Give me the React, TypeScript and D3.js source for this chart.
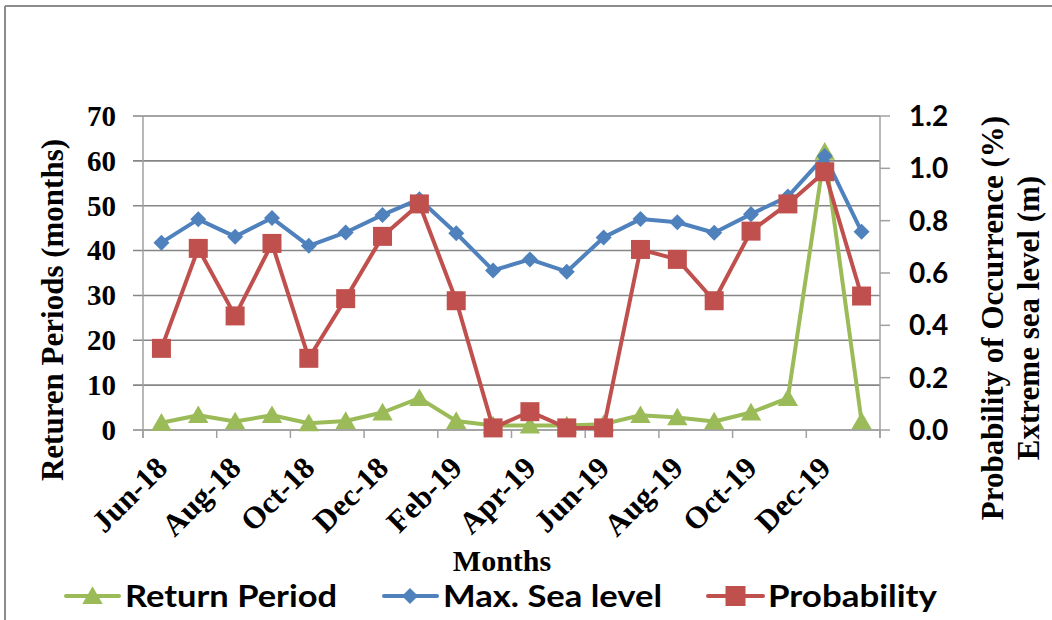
import React from "react";
import * as d3 from "d3";

const months = ["Jun-18","Jul-18","Aug-18","Sep-18","Oct-18","Nov-18","Dec-18","Jan-19","Feb-19","Mar-19","Apr-19","May-19","Jun-19","Jul-19","Aug-19","Sep-19","Oct-19","Nov-19","Dec-19","Jan-20"];
const xTickLabels = ["Jun-18","Aug-18","Oct-18","Dec-18","Feb-19","Apr-19","Jun-19","Aug-19","Oct-19","Dec-19"];
const returnPeriod = [1.6,3.3,1.9,3.3,1.5,2.0,3.9,7.1,2.0,1.0,1.0,1.0,1.3,3.3,2.8,1.9,3.9,7.1,62,1.9];
const maxSeaLevel = [0.716,0.805,0.739,0.810,0.704,0.755,0.822,0.882,0.752,0.610,0.652,0.605,0.736,0.806,0.794,0.754,0.825,0.892,1.047,0.758];
const probability = [0.312,0.694,0.436,0.713,0.274,0.502,0.740,0.864,0.494,0.008,0.07,0.008,0.008,0.69,0.652,0.494,0.76,0.864,0.987,0.512];
const leftTicks = [0,10,20,30,40,50,60,70];
const rightTicks = [0,0.2,0.4,0.6,0.8,1.0,1.2];
const legendItems = ["Return Period","Max. Sea level","Probability"];

const GREEN = "#9BBB59";
const BLUE = "#4F81BD";
const RED = "#C0504D";
const GRID = "#868686";
const SERIF = "'Liberation Serif', 'Times New Roman', serif";
const SANS = "Lato, 'Open Sans', sans-serif";

const L = 143, R = 880, T = 116, B = 430;

export default function App() {
  const x = d3.scaleBand<string>().domain(months).range([L, R]);
  const cx = (m: string) => (x(m) as number) + x.bandwidth() / 2;
  const yL = d3.scaleLinear().domain([0, 70]).range([B, T]);
  const yR = d3.scaleLinear().domain([0, 1.2]).range([B, T]);

  const lineL = d3.line<number>().x((_, i) => cx(months[i])).y((d) => yL(d));
  const lineR = d3.line<number>().x((_, i) => cx(months[i])).y((d) => yR(d));

  const tri = d3.symbol().type(d3.symbolTriangle).size(180)() as string;
  const sq = d3.symbol().type(d3.symbolSquare).size(128)() as string;

  const boundaries = d3.range(0, months.length + 1, 2).map((i) => L + i * x.step());

  const triangle = (px: number, py: number, key: any) => (
    <path key={key} d={tri} transform={`translate(${px},${py + 2})`} fill={GREEN} />
  );
  const diamond = (px: number, py: number, key: any) => (
    <path key={key} d={sq} transform={`translate(${px},${py}) rotate(45)`} fill={BLUE} />
  );
  const square = (px: number, py: number, key: any, s = 19) => (
    <rect key={key} x={px - s / 2} y={py - s / 2} width={s} height={s} fill={RED} />
  );

  const legendX = [
    { lx1: 66, lx2: 119, mx: 92.5, tx: 125, tw: 212 },
    { lx1: 384, lx2: 437, mx: 410, tx: 443, tw: 219 },
    { lx1: 708, lx2: 763, mx: 735.5, tx: 768, tw: 169 },
  ];
  const legY = 596;

  return (
    <svg width={1052} height={620} style={{ position: "absolute", left: 0, top: 0, display: "block", background: "#fff" }}>
      {/* frame */}
      <line x1={5} y1={6} x2={5} y2={620} stroke="#8c8c8c" strokeWidth={2} />
      <line x1={5} y1={6} x2={1052} y2={6} stroke="#8c8c8c" strokeWidth={2} />

      {/* gridlines */}
      {leftTicks.map((t) => (
        <line key={"g" + t} x1={133} x2={R} y1={yL(t)} y2={yL(t)} stroke={GRID} strokeWidth={1.6} />
      ))}
      {/* axes */}
      <line x1={L} x2={L} y1={T} y2={B + 8} stroke="#a0a0a0" strokeWidth={1.5} />
      <line x1={R} x2={R} y1={T} y2={B + 8} stroke="#a0a0a0" strokeWidth={1.5} />
      {rightTicks.map((t) => (
        <line key={"rt" + t} x1={R} x2={R + 10} y1={yR(t)} y2={yR(t)} stroke="#a0a0a0" strokeWidth={1.5} />
      ))}
      {boundaries.map((bx, i) => (
        <line key={"xt" + i} x1={bx} x2={bx} y1={B} y2={B + 8} stroke="#a0a0a0" strokeWidth={1.5} />
      ))}

      {/* left tick labels */}
      {leftTicks.map((t) => (
        <text key={"lt" + t} x={116} y={yL(t)} dy="0.34em" textAnchor="end" fontFamily={SERIF} fontWeight="bold" fontSize={29}>
          {t}
        </text>
      ))}
      {/* right tick labels */}
      {rightTicks.map((t) => (
        <text key={"rl" + t} x={909} y={yR(t)} dy="0.36em" textAnchor="start" fontFamily={SANS} fontWeight="bold" fontSize={28}>
          {d3.format(".1f")(t)}
        </text>
      ))}
      {/* x tick labels */}
      {xTickLabels.map((m) => (
        <text key={"xl" + m} transform={`translate(${cx(m)},${462}) rotate(-45)`} dy="0.35em" textAnchor="end" fontFamily={SERIF} fontWeight="bold" fontSize={31}>
          {m}
        </text>
      ))}

      {/* series: return period */}
      <path d={lineL(returnPeriod) as string} fill="none" stroke={GREEN} strokeWidth={4} strokeLinejoin="round" />
      {returnPeriod.map((v, i) => triangle(cx(months[i]), yL(v), "tr" + i))}
      {/* series: max sea level */}
      <path d={lineR(maxSeaLevel) as string} fill="none" stroke={BLUE} strokeWidth={4} strokeLinejoin="round" />
      {maxSeaLevel.map((v, i) => diamond(cx(months[i]), yR(v), "dm" + i))}
      {/* series: probability */}
      <path d={lineR(probability) as string} fill="none" stroke={RED} strokeWidth={4} strokeLinejoin="round" />
      {probability.map((v, i) => square(cx(months[i]), yR(v), "sq" + i))}

      {/* titles */}
      <text transform="translate(63,310) rotate(-90)" textAnchor="middle" fontFamily={SERIF} fontWeight="bold" fontSize={31}>
        Returen Periods (months)
      </text>
      <text transform="translate(1003,318) rotate(-90)" textAnchor="middle" fontFamily={SERIF} fontWeight="bold" fontSize={31}>
        Probability of Occurrence (%)
      </text>
      <text transform="translate(1039,318) rotate(-90)" textAnchor="middle" fontFamily={SERIF} fontWeight="bold" fontSize={31}>
        Extreme sea level (m)
      </text>
      <text x={502} y={571} textAnchor="middle" fontFamily={SERIF} fontWeight="bold" fontSize={30}>
        Months
      </text>

      {/* legend */}
      {legendItems.map((name, i) => {
        const p = legendX[i];
        const color = i === 0 ? GREEN : i === 1 ? BLUE : RED;
        return (
          <g key={"leg" + i}>
            <line x1={p.lx1} x2={p.lx2} y1={legY} y2={legY} stroke={color} strokeWidth={4} strokeLinecap="round" />
            {i === 0 ? triangle(p.mx, legY, "lm") : i === 1 ? diamond(p.mx, legY, "lm") : square(p.mx, legY, "lm", 20)}
            <text x={p.tx} y={607} textLength={p.tw} lengthAdjust="spacingAndGlyphs" fontFamily={SANS} fontWeight="bold" fontSize={30}>
              {name}
            </text>
          </g>
        );
      })}
    </svg>
  );
}
